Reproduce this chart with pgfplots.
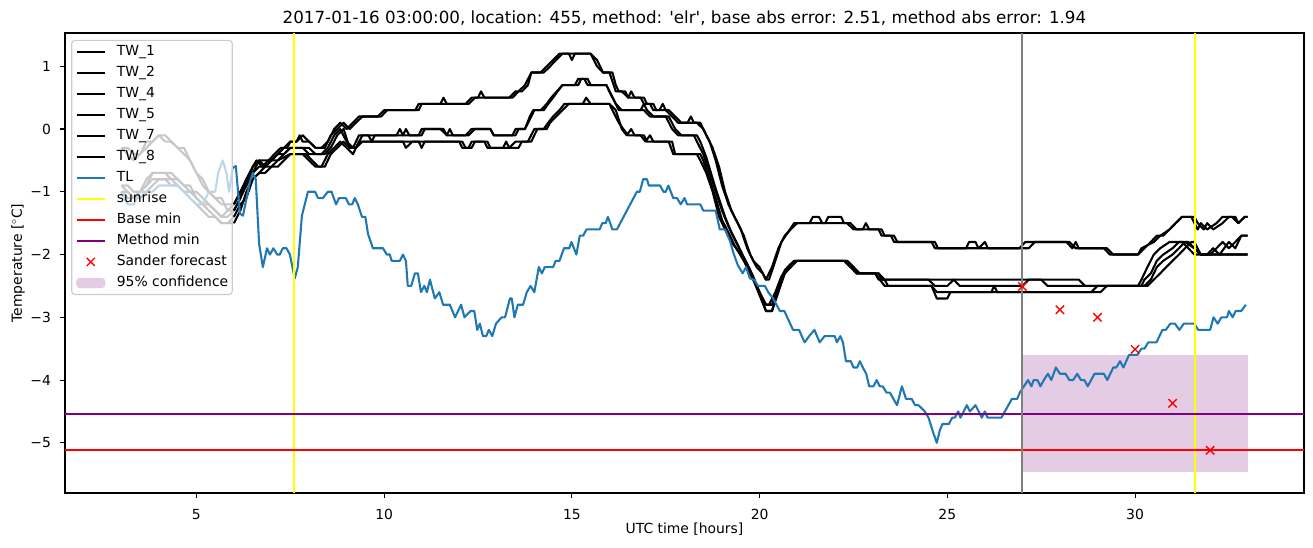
\documentclass[border=0pt]{standalone}
\usepackage{pgfplots}
\pgfplotsset{compat=1.18}
\usepackage{fontspec}
\setmainfont{DejaVu Sans}
\definecolor{tabblue}{RGB}{31,119,180}
\definecolor{lightblue}{RGB}{188,214,233}
\definecolor{lgray}{RGB}{200,200,200}
\definecolor{conf}{RGB}{229,204,229}
\definecolor{mpurple}{RGB}{128,0,128}
\definecolor{mgray}{RGB}{128,128,128}
\definecolor{myellow}{RGB}{255,255,0}
\definecolor{legedge}{RGB}{204,204,204}
\begin{document}
\begin{tikzpicture}
\begin{axis}[
  scale only axis, width=1239pt, height=460pt,
  xmin=1.5, xmax=34.5, ymin=-5.8, ymax=1.53,
  axis line style={line width=1.1pt},
  xtick={5,10,15,20,25,30}, xticklabels={5,10,15,20,25,30},
  ytick={-5,-4,-3,-2,-1,0,1}, yticklabels={−5,−4,−3,−2,−1,0,1},
  xtick pos=bottom, ytick pos=left, tick align=outside,
  major tick length=4.9pt, every tick/.style={black, line width=1.1pt},
  ticklabel style={font=\fontsize{13.9}{16}\selectfont},
  xticklabel style={anchor=base, inner sep=0pt, yshift=-22pt},
  yticklabel style={anchor=east, inner sep=0pt, xshift=-9pt},
  xlabel={UTC time [hours]}, ylabel={Temperature [$^\circ$C]},
  label style={font=\fontsize{13.9}{16}\selectfont},
  xlabel style={at={(axis description cs:0.5,0)}, anchor=base, yshift=-40.5pt},
  ylabel style={at={(axis description cs:-0.0379,0.5)}, anchor=center},
  title={2017-01-16 03:00:00, location: 455, method: \textquotesingle elr\textquotesingle, base abs error: 2.51, method abs error: 1.94},
  title style={font=\fontsize{16.7}{19}\selectfont, at={(axis description cs:0.5,1)}, anchor=base, yshift=3.5pt},
  legend cell align=left,
  legend style={at={(axis description cs:0.005,0.985)}, anchor=north west,
    draw=legedge, line width=1.1pt, rounded corners=3pt, fill=none,
    font=\fontsize{13.9}{16}\selectfont, inner xsep=4pt, inner ysep=5pt, row sep=8pt,
    nodes={inner sep=0pt, text height=10pt, text depth=3pt},
    /tikz/every odd column/.append style={column sep=11pt}},
  legend image code/.code={\draw[#1] (0pt,0pt) -- (28pt,0pt);},
  every axis plot/.append style={line join=round},
]
% confidence band
\addplot[draw=none, fill=conf, forget plot] coordinates {(27,-5.47)(33,-5.47)(33,-3.6)(27,-3.6)} -- cycle;

% faded history of TW sensors
\addplot[lgray, line width=2.08pt, forget plot] coordinates {(3.0,-0.3)(3.17,-0.3)(3.33,-0.4)(3.5,-0.4)(3.67,-0.3)(3.83,-0.2)(4.0,-0.1)(4.17,-0.2)(4.33,-0.2)(4.5,-0.3)(4.67,-0.4)(4.83,-0.5)(5.0,-0.7)(5.17,-0.9)(5.33,-1.0)(5.5,-1.1)(5.67,-1.2)(5.83,-1.2)(6.0,-1.2)};
\addplot[lgray, line width=2.08pt, forget plot] coordinates {(3.0,-0.3)(3.17,-0.4)(3.33,-0.5)(3.5,-0.4)(3.67,-0.2)(3.83,-0.2)(4.0,-0.1)(4.17,-0.1)(4.33,-0.2)(4.5,-0.3)(4.67,-0.3)(4.83,-0.5)(5.0,-0.7)(5.17,-0.8)(5.33,-1.0)(5.5,-1.1)(5.67,-1.1)(5.83,-1.3)(6.0,-1.3)};
\addplot[lgray, line width=2.08pt, forget plot] coordinates {(3.0,-0.9)(3.17,-1.0)(3.33,-1.1)(3.5,-1.0)(3.67,-0.8)(3.83,-0.7)(4.0,-0.7)(4.33,-0.7)(4.5,-0.8)(4.67,-0.9)(4.83,-1.0)(5.0,-1.0)(5.17,-1.1)(5.33,-1.2)(5.5,-1.3)(5.67,-1.4)(5.83,-1.4)(6.0,-1.3)};
\addplot[lgray, line width=2.08pt, forget plot] coordinates {(3.0,-0.9)(3.17,-0.9)(3.33,-1.0)(3.5,-1.0)(3.67,-0.9)(3.83,-0.7)(4.0,-0.7)(4.17,-0.7)(4.33,-0.8)(4.5,-0.8)(4.67,-0.9)(4.83,-0.9)(5.0,-1.1)(5.17,-1.2)(5.33,-1.2)(5.5,-1.3)(5.67,-1.4)(5.83,-1.3)(6.0,-1.2)};
\addplot[lgray, line width=2.08pt, forget plot] coordinates {(3.0,-1.0)(3.17,-1.1)(3.33,-1.1)(3.5,-1.0)(3.67,-0.9)(3.83,-0.8)(4.0,-0.8)(4.17,-0.8)(4.33,-0.9)(4.5,-0.9)(4.67,-1.0)(4.83,-1.1)(5.0,-1.2)(5.17,-1.3)(5.33,-1.4)(5.5,-1.4)(5.67,-1.5)(5.83,-1.5)(6.0,-1.5)};
\addplot[lgray, line width=2.08pt, forget plot] coordinates {(3.0,-1.0)(3.17,-1.0)(3.33,-1.1)(3.5,-1.1)(3.67,-1.0)(3.83,-0.9)(4.0,-0.8)(4.33,-0.8)(4.5,-0.9)(4.67,-1.0)(4.83,-1.0)(5.0,-1.1)(5.17,-1.2)(5.33,-1.3)(5.5,-1.4)(5.67,-1.5)(5.83,-1.5)(6.0,-1.4)};
% faded history of TL
\addplot[lightblue, line width=2.08pt, forget plot] coordinates {(3.0,-1.0)(3.08,-1.1)(3.17,-1.2)(3.33,-1.2)(3.5,-1.0)(3.67,-1.0)(3.83,-1.0)(4.0,-0.9)(4.17,-0.9)(4.5,-0.9)(4.67,-1.0)(4.83,-1.1)(5.0,-1.2)(5.17,-1.2)(5.33,-1.0)(5.5,-1.0)(5.58,-0.7)(5.7,-0.5)(5.8,-0.7)(5.87,-1.0)(5.97,-0.62)};

% TW_1
\addplot[black, line width=2.08pt, forget plot] coordinates {(6.0,-1.2)(6.17,-1.0)(6.33,-0.8)(6.5,-0.6)(6.6,-0.5)(6.75,-0.6)(6.92,-0.5)(7.08,-0.4)(7.25,-0.3)(7.42,-0.3)(7.5,-0.2)(7.67,-0.2)(7.83,-0.1)(8.0,-0.2)(8.17,-0.3)(8.33,-0.3)(8.5,-0.2)(8.67,0.0)(8.83,0.1)(9.0,0.0)(9.17,0.1)(9.33,0.2)(9.83,0.2)(10.0,0.3)(10.83,0.3)(10.92,0.4)(11.5,0.4)(11.58,0.5)(11.67,0.4)(12.17,0.4)(12.33,0.5)(12.5,0.5)(12.58,0.6)(12.67,0.5)(13.33,0.5)(13.5,0.6)(13.67,0.6)(13.83,0.7)(13.92,0.9)(14.17,0.9)(14.33,1.0)(14.5,1.1)(14.67,1.2)(15.5,1.2)(15.67,1.0)(15.83,0.9)(16.0,0.9)(16.17,0.6)(16.33,0.6)(16.5,0.5)(16.83,0.5)(16.92,0.4)(17.08,0.4)(17.17,0.3)(17.33,0.3)(17.42,0.4)(17.5,0.3)(17.67,0.2)(17.83,0.1)(18.33,0.1)(18.5,0.0)(18.67,-0.2)(18.83,-0.5)(19.0,-0.9)(19.17,-1.2)(19.33,-1.4)(19.5,-1.6)(19.67,-1.9)(19.83,-2.1)(20.0,-2.2)(20.17,-2.4)(20.25,-2.4)(20.42,-2.1)(20.58,-1.8)(20.75,-1.65)(20.92,-1.5)(21.33,-1.5)(21.42,-1.4)(21.58,-1.4)(21.67,-1.5)(22.33,-1.5)(22.5,-1.6)(23.17,-1.6)(23.25,-1.7)(23.5,-1.7)(23.58,-1.8)(24.58,-1.8)(24.67,-1.9)(26.92,-1.9)(27.08,-1.8)(28.25,-1.8)(28.42,-1.9)(29.17,-1.9)(29.33,-2.0)(30.08,-2.0)(30.17,-1.9)(30.5,-1.8)(30.67,-1.7)(30.92,-1.6)(31.08,-1.5)(31.25,-1.4)(31.58,-1.4)(31.67,-1.5)(31.83,-1.6)(31.92,-1.5)(32.08,-1.6)(32.33,-1.5)(32.5,-1.4)(32.67,-1.4)(32.75,-1.5)(32.92,-1.4)(33.0,-1.4)};
% TW_2
\addplot[black, line width=2.08pt, forget plot] coordinates {(6.0,-1.3)(6.17,-1.1)(6.33,-0.8)(6.5,-0.7)(6.67,-0.5)(6.83,-0.5)(7.0,-0.5)(7.17,-0.4)(7.33,-0.3)(7.5,-0.2)(7.67,-0.2)(7.75,-0.1)(7.83,-0.2)(8.0,-0.2)(8.17,-0.3)(8.42,-0.3)(8.58,-0.1)(8.75,0.0)(8.92,0.1)(9.08,0.0)(9.25,0.1)(9.42,0.2)(9.92,0.2)(10.08,0.3)(10.92,0.3)(11.0,0.4)(12.25,0.4)(12.42,0.5)(13.42,0.5)(13.58,0.6)(13.75,0.7)(13.92,0.9)(14.25,0.9)(14.42,1.0)(14.58,1.1)(14.75,1.2)(14.92,1.2)(15.0,1.1)(15.08,1.2)(15.5,1.2)(15.67,1.1)(15.83,0.9)(16.08,0.9)(16.17,0.7)(16.25,0.6)(16.42,0.6)(16.5,0.5)(16.58,0.6)(16.67,0.5)(16.92,0.5)(17.0,0.4)(17.17,0.4)(17.25,0.3)(17.58,0.3)(17.75,0.2)(17.92,0.1)(18.08,0.1)(18.17,0.2)(18.25,0.1)(18.42,0.1)(18.58,-0.1)(18.75,-0.3)(18.92,-0.6)(19.08,-1.0)(19.25,-1.3)(19.42,-1.5)(19.58,-1.7)(19.75,-2.0)(19.92,-2.2)(20.08,-2.3)(20.17,-2.4)(20.33,-2.2)(20.5,-1.9)(20.67,-1.7)(20.83,-1.6)(21.0,-1.5)(21.75,-1.5)(21.83,-1.4)(22.17,-1.4)(22.25,-1.5)(22.42,-1.5)(22.58,-1.6)(22.75,-1.6)(22.83,-1.5)(22.92,-1.6)(23.25,-1.6)(23.33,-1.7)(23.58,-1.7)(23.67,-1.8)(24.67,-1.8)(24.75,-1.9)(25.5,-1.9)(25.58,-1.8)(25.75,-1.8)(25.83,-1.9)(26.0,-1.8)(26.08,-1.9)(27.17,-1.9)(27.33,-1.8)(28.17,-1.8)(28.33,-1.9)(28.42,-1.8)(28.5,-1.9)(29.25,-1.9)(29.42,-2.0)(30.08,-2.0)(30.25,-1.9)(30.42,-1.8)(30.58,-1.7)(30.75,-1.7)(30.92,-1.6)(31.08,-1.5)(31.25,-1.4)(31.5,-1.4)(31.58,-1.5)(31.67,-1.6)(31.75,-1.5)(31.92,-1.6)(32.17,-1.5)(32.33,-1.4)(32.58,-1.4)(32.75,-1.5)(32.92,-1.4)(33.0,-1.4)};
% TW_4
\addplot[black, line width=2.08pt, forget plot] coordinates {(6.0,-1.3)(6.17,-1.1)(6.33,-0.9)(6.5,-0.7)(6.67,-0.6)(6.83,-0.6)(7.0,-0.5)(7.17,-0.4)(7.33,-0.4)(7.5,-0.3)(8.0,-0.3)(8.17,-0.4)(8.42,-0.4)(8.58,-0.3)(8.75,-0.1)(8.92,0.0)(9.08,-0.3)(9.25,-0.3)(9.42,-0.1)(9.58,-0.1)(9.67,-0.2)(9.75,-0.1)(10.5,-0.1)(10.58,0.0)(10.67,-0.1)(11.0,-0.1)(11.08,0.0)(11.58,0.0)(11.67,-0.1)(11.75,0.0)(11.83,-0.1)(12.17,-0.1)(12.33,0.0)(12.83,0.0)(12.92,-0.1)(13.5,-0.1)(13.58,0.0)(13.75,0.0)(13.88,0.2)(13.97,0.3)(14.17,0.3)(14.33,0.4)(14.45,0.5)(14.6,0.6)(14.75,0.7)(15.17,0.7)(15.25,0.8)(15.42,0.8)(15.5,0.7)(15.92,0.7)(16.0,0.6)(16.17,0.4)(16.33,0.3)(16.83,0.3)(16.92,0.4)(17.0,0.3)(17.17,0.2)(17.5,0.2)(17.67,0.0)(17.83,-0.1)(18.33,-0.1)(18.42,-0.2)(18.58,-0.45)(18.83,-0.95)(19.08,-1.4)(19.25,-1.65)(19.5,-1.95)(19.67,-2.15)(19.83,-2.35)(20.0,-2.6)(20.17,-2.8)(20.33,-2.8)(20.5,-2.5)(20.67,-2.25)(20.83,-2.15)(21.0,-2.1)(22.33,-2.1)(22.5,-2.2)(22.58,-2.3)(23.17,-2.3)(23.25,-2.4)(28.5,-2.4)(28.67,-2.5)(30.08,-2.5)(30.17,-2.4)(30.33,-2.2)(30.5,-2.0)(30.67,-1.9)(30.92,-1.8)(31.25,-1.8)(31.42,-1.9)(31.58,-2.0)(33.0,-2.0)};
% TW_5
\addplot[black, line width=2.08pt, forget plot] coordinates {(6.0,-1.2)(6.17,-1.0)(6.33,-0.9)(6.5,-0.6)(6.67,-0.5)(6.83,-0.6)(7.0,-0.5)(7.17,-0.5)(7.33,-0.4)(7.5,-0.3)(7.83,-0.3)(8.0,-0.4)(8.33,-0.4)(8.5,-0.3)(8.67,-0.1)(8.83,0.0)(9.0,-0.2)(9.17,-0.3)(9.33,-0.1)(10.33,-0.1)(10.42,0.0)(10.5,-0.1)(10.92,-0.1)(11.0,0.0)(11.5,0.0)(11.67,-0.1)(12.25,-0.1)(12.42,0.0)(12.83,0.0)(12.92,-0.1)(13.42,-0.1)(13.5,0.0)(13.75,0.0)(13.92,0.2)(14.0,0.3)(14.25,0.3)(14.37,0.4)(14.5,0.5)(14.62,0.6)(14.75,0.7)(15.08,0.7)(15.17,0.8)(15.33,0.8)(15.42,0.7)(15.92,0.7)(16.0,0.6)(16.17,0.4)(16.25,0.3)(16.92,0.3)(17.08,0.2)(17.58,0.2)(17.75,0.0)(17.92,-0.1)(18.25,-0.1)(18.33,-0.2)(18.5,-0.4)(18.75,-0.85)(19.0,-1.3)(19.17,-1.55)(19.42,-1.85)(19.58,-2.05)(19.75,-2.25)(19.92,-2.5)(20.08,-2.7)(20.17,-2.8)(20.25,-2.8)(20.42,-2.6)(20.58,-2.35)(20.75,-2.2)(20.92,-2.1)(22.25,-2.1)(22.42,-2.2)(22.5,-2.2)(22.58,-2.3)(23.08,-2.3)(23.17,-2.4)(24.5,-2.4)(24.67,-2.5)(25.0,-2.5)(25.17,-2.4)(25.33,-2.5)(27.0,-2.5)(27.17,-2.4)(27.5,-2.4)(27.67,-2.5)(30.17,-2.5)(30.25,-2.4)(30.42,-2.3)(30.58,-2.1)(30.75,-2.0)(31.0,-1.9)(31.17,-1.8)(31.42,-1.8)(31.58,-1.9)(31.75,-2.0)(31.92,-2.0)(32.08,-1.9)(32.25,-2.0)(32.5,-1.8)(32.67,-1.9)(32.83,-1.7)(33.0,-1.7)};
% TW_7
\addplot[black, line width=2.08pt, forget plot] coordinates {(6.0,-1.5)(6.17,-1.3)(6.33,-1.0)(6.5,-0.8)(6.67,-0.7)(6.83,-0.6)(7.0,-0.6)(7.17,-0.5)(7.5,-0.4)(7.83,-0.4)(8.0,-0.5)(8.17,-0.6)(8.33,-0.6)(8.5,-0.4)(8.67,-0.3)(8.83,-0.2)(9.0,-0.3)(9.17,-0.4)(9.33,-0.2)(10.5,-0.2)(10.58,-0.3)(10.75,-0.2)(12.0,-0.2)(12.08,-0.3)(12.25,-0.3)(12.33,-0.2)(12.67,-0.2)(12.75,-0.3)(13.17,-0.3)(13.25,-0.2)(13.33,-0.3)(13.5,-0.2)(13.83,-0.2)(14.0,0.0)(14.25,0.0)(14.37,0.1)(14.5,0.2)(14.67,0.3)(14.8,0.4)(15.29,0.4)(15.38,0.5)(15.5,0.4)(16.0,0.4)(16.17,0.3)(16.33,0.0)(16.46,-0.1)(16.58,0.0)(16.67,-0.1)(16.83,-0.1)(16.96,-0.2)(17.08,-0.1)(17.17,-0.2)(17.58,-0.2)(17.7,-0.4)(18.33,-0.4)(18.42,-0.5)(18.58,-0.7)(18.75,-1.0)(18.92,-1.4)(19.08,-1.6)(19.25,-1.8)(19.5,-2.0)(19.67,-2.2)(19.83,-2.4)(20.0,-2.65)(20.17,-2.9)(20.33,-2.9)(20.5,-2.6)(20.67,-2.3)(20.83,-2.2)(21.0,-2.1)(22.25,-2.1)(22.42,-2.2)(22.58,-2.3)(23.08,-2.3)(23.2,-2.4)(23.33,-2.5)(24.58,-2.5)(24.72,-2.6)(28.83,-2.6)(29.0,-2.5)(30.25,-2.5)(30.42,-2.4)(30.58,-2.2)(30.75,-2.1)(31.0,-2.0)(31.17,-1.9)(31.33,-1.8)(31.58,-1.9)(31.75,-2.0)(33.0,-2.0)};
% TW_8
\addplot[black, line width=2.08pt, forget plot] coordinates {(6.0,-1.4)(6.17,-1.2)(6.33,-1.1)(6.5,-0.8)(6.67,-0.7)(6.83,-0.7)(7.0,-0.6)(7.17,-0.6)(7.33,-0.5)(7.5,-0.4)(7.92,-0.4)(8.08,-0.5)(8.25,-0.6)(8.42,-0.6)(8.58,-0.4)(8.75,-0.3)(8.92,-0.2)(9.08,-0.3)(9.25,-0.3)(9.42,-0.2)(10.92,-0.2)(11.0,-0.3)(11.08,-0.2)(12.08,-0.2)(12.17,-0.3)(12.33,-0.3)(12.42,-0.2)(12.75,-0.2)(12.83,-0.3)(13.58,-0.3)(13.67,-0.2)(13.92,-0.2)(14.08,0.0)(14.33,0.0)(14.42,0.1)(14.58,0.2)(14.75,0.3)(14.92,0.4)(16.0,0.4)(16.08,0.3)(16.25,0.1)(16.37,0.0)(16.5,-0.1)(16.92,-0.1)(17.0,-0.2)(17.67,-0.2)(17.75,-0.4)(18.42,-0.4)(18.5,-0.5)(18.67,-0.8)(18.83,-1.1)(19.0,-1.45)(19.17,-1.65)(19.33,-1.85)(19.58,-2.1)(19.75,-2.3)(19.92,-2.5)(20.08,-2.75)(20.17,-2.9)(20.33,-2.9)(20.5,-2.55)(20.67,-2.3)(20.83,-2.2)(20.92,-2.1)(22.33,-2.1)(22.5,-2.2)(22.67,-2.3)(23.17,-2.3)(23.33,-2.4)(23.42,-2.5)(24.58,-2.5)(24.72,-2.7)(25.0,-2.7)(25.08,-2.6)(26.17,-2.6)(26.25,-2.5)(26.33,-2.6)(29.08,-2.6)(29.25,-2.5)(30.33,-2.5)(30.5,-2.4)(30.67,-2.3)(30.83,-2.2)(31.0,-2.1)(31.17,-2.0)(31.33,-1.9)(31.5,-1.8)(31.58,-1.8)(31.75,-2.0)(32.0,-2.0)(32.17,-1.9)(32.33,-1.8)(32.5,-1.9)(32.67,-1.8)(32.83,-1.7)(33.0,-1.7)};
% TL
\addplot[tabblue, line width=2.08pt, forget plot] coordinates {(5.97,-0.62)(6.05,-0.59)(6.16,-1.35)(6.24,-1.38)(6.43,-0.83)(6.5,-0.7)(6.58,-0.8)(6.67,-1.83)(6.77,-2.2)(6.88,-1.9)(6.96,-2.0)(7.05,-1.9)(7.15,-2.0)(7.22,-2.0)(7.3,-1.9)(7.4,-1.9)(7.49,-2.0)(7.62,-2.38)(7.7,-2.2)(7.81,-1.38)(7.97,-1.0)(8.16,-1.0)(8.24,-1.1)(8.37,-1.1)(8.5,-1.0)(8.6,-1.0)(8.72,-1.2)(8.8,-1.1)(8.98,-1.1)(9.06,-1.2)(9.15,-1.2)(9.22,-1.1)(9.3,-1.2)(9.41,-1.4)(9.5,-1.4)(9.57,-1.67)(9.7,-1.9)(9.97,-1.9)(10.07,-2.0)(10.15,-2.0)(10.2,-2.1)(10.42,-2.1)(10.5,-2.0)(10.58,-2.1)(10.63,-2.5)(10.72,-2.5)(10.82,-2.3)(10.9,-2.3)(10.98,-2.6)(11.07,-2.5)(11.14,-2.6)(11.22,-2.4)(11.35,-2.7)(11.47,-2.6)(11.57,-2.8)(11.75,-2.8)(11.89,-3.0)(12.05,-2.8)(12.14,-3.0)(12.3,-2.9)(12.4,-2.9)(12.48,-3.2)(12.55,-3.1)(12.63,-3.3)(12.72,-3.3)(12.79,-3.2)(12.88,-3.3)(12.98,-3.1)(13.13,-3.0)(13.22,-3.0)(13.35,-2.7)(13.4,-2.7)(13.47,-3.0)(13.56,-2.8)(13.7,-2.8)(13.8,-2.6)(13.9,-2.5)(14.0,-2.6)(14.12,-2.2)(14.2,-2.3)(14.28,-2.2)(14.5,-2.2)(14.57,-2.1)(14.67,-2.1)(14.79,-1.9)(14.93,-1.9)(14.99,-1.8)(15.12,-2.0)(15.21,-1.7)(15.3,-1.7)(15.39,-1.6)(15.74,-1.6)(15.81,-1.5)(15.9,-1.5)(15.96,-1.4)(16.08,-1.6)(16.2,-1.6)(16.73,-1.0)(16.81,-1.0)(16.9,-0.8)(17.0,-0.8)(17.05,-0.9)(17.35,-0.9)(17.44,-1.0)(17.5,-1.0)(17.57,-0.9)(17.7,-1.1)(17.8,-1.1)(17.9,-1.2)(18.0,-1.1)(18.07,-1.2)(18.42,-1.2)(18.5,-1.3)(18.83,-1.3)(18.94,-1.6)(19.08,-1.6)(19.21,-1.78)(19.3,-1.97)(19.42,-2.17)(19.55,-2.3)(19.64,-2.2)(19.74,-2.38)(19.85,-2.4)(19.96,-2.5)(20.14,-2.5)(20.23,-2.6)(20.36,-2.7)(20.54,-2.9)(20.66,-2.9)(20.89,-3.2)(21.05,-3.2)(21.2,-3.4)(21.32,-3.3)(21.46,-3.2)(21.6,-3.4)(21.73,-3.3)(22.0,-3.3)(22.06,-3.4)(22.15,-3.3)(22.22,-3.4)(22.3,-3.7)(22.43,-3.7)(22.5,-3.8)(22.6,-3.8)(22.67,-3.7)(22.75,-3.8)(22.84,-3.9)(22.92,-4.1)(23.03,-4.1)(23.12,-4.0)(23.2,-4.1)(23.28,-4.1)(23.38,-4.2)(23.47,-4.2)(23.66,-4.4)(23.79,-4.1)(23.9,-4.3)(24.05,-4.3)(24.14,-4.4)(24.23,-4.4)(24.4,-4.5)(24.5,-4.6)(24.62,-4.83)(24.72,-5.0)(24.8,-4.8)(24.87,-4.7)(25.04,-4.7)(25.13,-4.6)(25.2,-4.6)(25.29,-4.5)(25.35,-4.6)(25.52,-4.4)(25.6,-4.5)(25.75,-4.4)(25.92,-4.6)(26.0,-4.5)(26.07,-4.6)(26.44,-4.6)(26.72,-4.3)(26.86,-4.3)(26.93,-4.2)(27.04,-4.1)(27.15,-4.0)(27.24,-4.1)(27.3,-4.0)(27.4,-4.0)(27.48,-4.1)(27.57,-4.0)(27.68,-3.9)(27.77,-4.0)(27.89,-3.8)(28.0,-3.9)(28.15,-3.9)(28.25,-4.0)(28.35,-4.0)(28.46,-3.9)(28.56,-4.0)(28.65,-4.0)(28.74,-4.1)(28.92,-3.9)(29.17,-3.9)(29.26,-4.0)(29.42,-3.8)(29.5,-3.8)(29.6,-3.7)(29.69,-3.8)(29.84,-3.6)(30.06,-3.6)(30.17,-3.5)(30.25,-3.5)(30.35,-3.4)(30.57,-3.4)(30.73,-3.2)(30.82,-3.2)(30.94,-3.1)(31.06,-3.1)(31.18,-3.2)(31.3,-3.1)(31.58,-3.1)(31.68,-3.2)(32.0,-3.2)(32.09,-3.0)(32.2,-3.1)(32.3,-3.0)(32.45,-3.0)(32.5,-2.9)(32.6,-3.0)(32.68,-2.9)(32.83,-2.9)(32.95,-2.8)};
% sunrise
\addplot[myellow, line width=2.08pt, forget plot] coordinates {(7.6,-5.8)(7.6,1.53)};
\addplot[myellow, line width=2.08pt, forget plot] coordinates {(31.6,-5.8)(31.6,1.53)};
% base min, method min
\addplot[red, line width=2.08pt, forget plot] coordinates {(1.5,-5.11)(34.5,-5.11)};
\addplot[mpurple, line width=2.08pt, forget plot] coordinates {(1.5,-4.54)(34.5,-4.54)};
% forecast time
\addplot[mgray, line width=2.08pt, forget plot] coordinates {(27,-5.8)(27,1.53)};
% Sander forecast
\addplot[only marks, mark=x, red, mark size=5.9pt, line width=1.4pt, forget plot] coordinates {(27,-2.51)(28,-2.88)(29,-3.0)(30,-3.51)(31,-4.37)(32,-5.12)};

\addlegendimage{black, line width=2.08pt}\addlegendentry{TW\_1}
\addlegendimage{black, line width=2.08pt}\addlegendentry{TW\_2}
\addlegendimage{black, line width=2.08pt}\addlegendentry{TW\_4}
\addlegendimage{black, line width=2.08pt}\addlegendentry{TW\_5}
\addlegendimage{black, line width=2.08pt}\addlegendentry{TW\_7}
\addlegendimage{black, line width=2.08pt}\addlegendentry{TW\_8}
\addlegendimage{tabblue, line width=2.08pt}\addlegendentry{TL}
\addlegendimage{myellow, line width=2.08pt}\addlegendentry{sunrise}
\addlegendimage{red, line width=2.08pt}\addlegendentry{Base min}
\addlegendimage{mpurple, line width=2.08pt}\addlegendentry{Method min}
\addlegendimage{legend image code/.code={\draw[red, line width=1.4pt] (10pt,-4pt) -- (18pt,4pt) (10pt,4pt) -- (18pt,-4pt);}}\addlegendentry{Sander forecast}
\addlegendimage{legend image code/.code={\fill[conf] (0pt,-4.5pt) rectangle (28pt,4.5pt);}}\addlegendentry{95\% confidence}

\coordinate (bbSW) at (rel axis cs:0,0);
\coordinate (bbNE) at (rel axis cs:1,1);
\end{axis}
\pgfresetboundingbox
\path ([shift={(-65pt,-54pt)}]bbSW) rectangle ([shift={(9pt,33pt)}]bbNE);
\end{tikzpicture}
\end{document}
